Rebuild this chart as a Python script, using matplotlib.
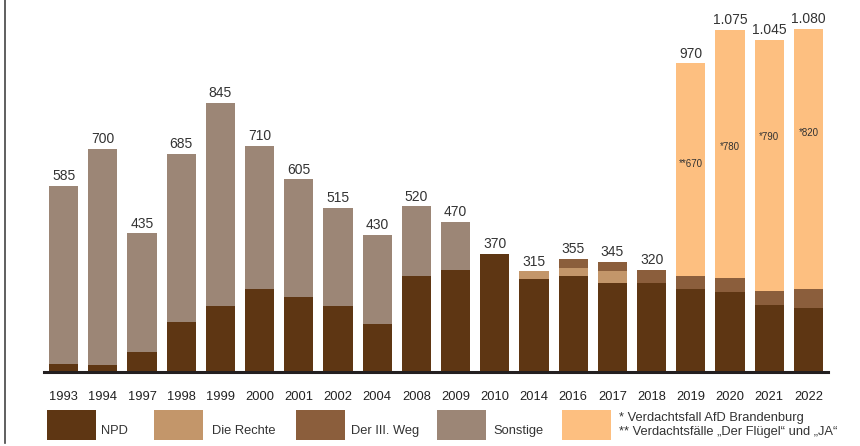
import matplotlib.pyplot as plt
from matplotlib.patches import Rectangle
from matplotlib.lines import Line2D
import numpy as np

plt.rcParams['font.family'] = ['Liberation Sans', 'DejaVu Sans']

years = ['1993', '1994', '1997', '1998', '1999', '2000', '2001', '2002', '2004', '2008',
         '2009', '2010', '2014', '2016', '2017', '2018', '2019', '2020', '2021', '2022']
npd        = [25, 20, 60, 155, 205, 260, 235, 205, 150, 300, 320, 370, 290, 300, 280, 280, 260, 250, 210, 200]
die_rechte = [0, 0, 0, 0, 0, 0, 0, 0, 0, 0, 0, 0, 25, 25, 35, 0, 0, 0, 0, 0]
dritter_weg = [0, 0, 0, 0, 0, 0, 0, 0, 0, 0, 0, 0, 0, 30, 30, 40, 40, 45, 45, 60]
sonstige   = [560, 680, 375, 530, 640, 450, 370, 310, 280, 220, 150, 0, 0, 0, 0, 0, 0, 0, 0, 0]
afd        = [0, 0, 0, 0, 0, 0, 0, 0, 0, 0, 0, 0, 0, 0, 0, 0, 670, 780, 790, 820]
totals     = ['585', '700', '435', '685', '845', '710', '605', '515', '430', '520',
              '470', '370', '315', '355', '345', '320', '970', '1.075', '1.045', '1.080']
afd_labels = {16: '**670', 17: '*780', 18: '*790', 19: '*820'}

colors = {
    'NPD': '#5E3613',
    'Die Rechte': '#C3966A',
    'Der III. Weg': '#8B5E3C',
    'Sonstige': '#9C8676',
    'AfD': '#FDBF80',
}
text_color = '#333333'

W, H = 860, 446
fig = plt.figure(figsize=(W / 100, H / 100), dpi=100)

def fx(x):
    return x / W

def fy(y):
    return 1 - y / H

ax = fig.add_axes([fx(44), fy(371.5), (828 - 44) / W, (371.5 - 6.3) / H])

x = np.arange(len(years))
bw = 0.74
bottom = np.zeros(len(years))
for name, vals in [('NPD', npd), ('Die Rechte', die_rechte), ('Der III. Weg', dritter_weg),
                   ('Sonstige', sonstige), ('AfD', afd)]:
    vals = np.array(vals)
    ax.bar(x, vals, bw, bottom=bottom, color=colors[name], linewidth=0)
    bottom += vals

for i, t in enumerate(totals):
    ax.annotate(t, (x[i], bottom[i]), xytext=(0, 2), textcoords='offset points',
                ha='center', va='bottom', fontsize=10, color=text_color)

# inner labels for the AfD segments
inner_y = {16: 652, 17: 708, 18: 737, 19: 752}
for i, lab in afd_labels.items():
    ax.text(x[i], inner_y[i], lab, ha='center', va='center', fontsize=7, color=text_color)

ax.set_xlim(-0.5, 19.5)
ax.set_ylim(0, 1150)
ax.set_yticks([])
ax.set_xticks(x)
ax.set_xticklabels(years, fontsize=9.3, color='#222222')
ax.tick_params(axis='x', length=0, pad=14)
for s in ['top', 'right', 'left']:
    ax.spines[s].set_visible(False)
ax.spines['bottom'].set_linewidth(2.2)
ax.spines['bottom'].set_color('#231F20')

# left border line
fig.add_artist(Line2D([fx(4.5), fx(4.5)], [fy(0), fy(443)], color='#444444', linewidth=1.2))

# legend
legend_items = [
    ('NPD', 47, 101),
    ('Die Rechte', 154, 212),
    ('Der III. Weg', 296, 351),
    ('Sonstige', 437, 493),
]
for name, px, tx in legend_items:
    fig.add_artist(Rectangle((fx(px), fy(440)), 49 / W, 30 / H, color=colors[name],
                             transform=fig.transFigure, linewidth=0))
    fig.text(fx(tx), fy(431), name, ha='left', va='center', fontsize=9.3, color=text_color)

fig.add_artist(Rectangle((fx(562), fy(440)), 49 / W, 30 / H, color=colors['AfD'],
                         transform=fig.transFigure, linewidth=0))
fig.text(fx(619), fy(418), '* Verdachtsfall AfD Brandenburg', ha='left', va='center',
         fontsize=9.3, color=text_color)
fig.text(fx(619), fy(432), '** Verdachtsfälle \u201eDer Flügel\u201c und \u201eJA\u201c', ha='left',
         va='center', fontsize=9.3, color=text_color)

fig.savefig('out.png', dpi=100)
